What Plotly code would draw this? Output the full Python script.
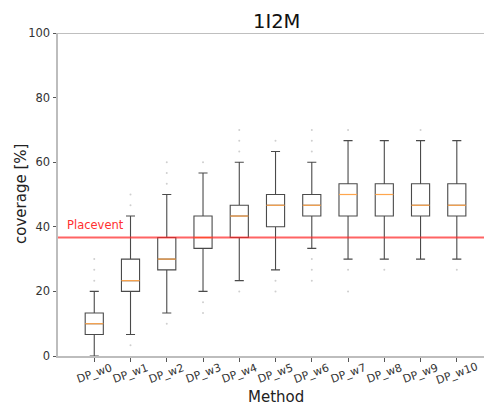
import plotly.graph_objects as go

methods = ["DP_w0", "DP_w1", "DP_w2", "DP_w3", "DP_w4", "DP_w5",
           "DP_w6", "DP_w7", "DP_w8", "DP_w9", "DP_w10"]
lower_whisker = [0.0, 6.67, 13.33, 20.0, 23.33, 26.67, 33.33, 30.0, 30.0, 30.0, 30.0]
q1 = [6.67, 20.0, 26.67, 33.33, 36.67, 40.0, 43.33, 43.33, 43.33, 43.33, 43.33]
medians = [10.0, 23.33, 30.0, 36.67, 43.33, 46.67, 46.67, 50.0, 50.0, 46.67, 46.67]
q3 = [13.33, 30.0, 36.67, 43.33, 46.67, 50.0, 50.0, 53.33, 53.33, 53.33, 53.33]
upper_whisker = [20.0, 43.33, 50.0, 56.67, 60.0, 63.33, 60.0, 66.67, 66.67, 66.67, 66.67]
outliers = [
    [23.33, 26.67, 30.0],
    [3.33, 46.67, 50.0],
    [10.0, 53.33, 56.67, 60.0],
    [13.33, 16.67, 60.0],
    [20.0, 63.33, 66.67, 70.0],
    [20.0, 23.33, 66.67],
    [23.33, 26.67, 30.0, 63.33, 66.67, 70.0],
    [20.0, 26.67, 70.0],
    [26.67],
    [70.0],
    [26.67],
]
placevent_value = 36.67
y_ticks = [0, 20, 40, 60, 80, 100]

positions = list(range(len(methods)))
box_w = 0.5

fig = go.Figure()
for i, m in enumerate(methods):
    fig.add_trace(go.Box(
        x=[positions[i]], q1=[q1[i]], median=[medians[i]], q3=[q3[i]],
        lowerfence=[lower_whisker[i]], upperfence=[upper_whisker[i]],
        width=box_w, whiskerwidth=0.5, boxpoints=False,
        line=dict(color="#4a4a4a", width=1.1),
        fillcolor="rgba(255,255,255,0)", name=m, showlegend=False,
        hoverinfo="skip",
    ))

# medians (orange)
mx, my = [], []
for i, med in enumerate(medians):
    mx += [positions[i] - box_w / 2, positions[i] + box_w / 2, None]
    my += [med, med, None]
fig.add_trace(go.Scatter(x=mx, y=my, mode="lines",
                         line=dict(color="#ffa64d", width=1.2),
                         showlegend=False, hoverinfo="skip"))

# outliers
ox, oy = [], []
for i, vals in enumerate(outliers):
    for v in vals:
        ox.append(positions[i])
        oy.append(v)
fig.add_trace(go.Scatter(x=ox, y=oy, mode="markers",
                         marker=dict(color="#cfcfcf", size=2),
                         showlegend=False, hoverinfo="skip"))

# Placevent line
fig.add_hline(y=placevent_value, line=dict(color="rgba(255,40,40,0.72)", width=2))
fig.add_annotation(x=-0.8, y=placevent_value, text="Placevent", showarrow=False,
                   xanchor="left", yanchor="bottom", yshift=4,
                   font=dict(family="DejaVu Sans", size=11.5, color="#ff3030"))

# top spine
fig.add_shape(type="line", xref="paper", yref="y", x0=0, x1=1, y0=100, y1=100,
              line=dict(color="#808080", width=1.2))

# title
fig.add_annotation(xref="paper", yref="paper", x=0.512, y=1.0, yshift=12,
                   text="1I2M", showarrow=False, xanchor="center", yanchor="middle",
                   font=dict(family="DejaVu Sans", size=19.5, color="#111111"))

# rotated, centred tick labels
for i, m in enumerate(methods):
    fig.add_annotation(x=positions[i], xref="x", y=0, yref="paper", yshift=-17,
                       text=m, textangle=-20, showarrow=False,
                       xanchor="center", yanchor="middle",
                       font=dict(family="DejaVu Sans", size=11, color="#333333"))

# axis titles
fig.add_annotation(xref="paper", yref="paper", x=0.512, y=0, yshift=-40.5,
                   text="Method", showarrow=False, xanchor="center", yanchor="middle",
                   font=dict(family="DejaVu Sans", size=15, color="#222222"))
fig.add_annotation(xref="paper", yref="paper", x=0, xshift=-37.5, y=0.5,
                   text="coverage [%]", textangle=-90, showarrow=False,
                   xanchor="center", yanchor="middle",
                   font=dict(family="DejaVu Sans", size=15, color="#222222"))

fig.update_layout(
    width=484, height=410,
    margin=dict(l=57.5, r=0, t=33, b=53.5),
    paper_bgcolor="white", plot_bgcolor="white",
    font=dict(family="DejaVu Sans", color="#222222"),
    xaxis=dict(
        range=[-1, 10.75], tickmode="array", tickvals=positions,
        showticklabels=False,
        showline=True, linecolor="#bdbdbd", linewidth=2,
        ticks="outside", ticklen=3.5, tickcolor="#555555", tickwidth=1,
        showgrid=False, zeroline=False,
    ),
    yaxis=dict(
        range=[0, 100], tickmode="array", tickvals=y_ticks,
        tickfont=dict(size=11.5, color="#333333"),
        showline=True, linecolor="#bdbdbd", linewidth=2,
        ticks="outside", ticklen=3.5, tickcolor="#555555", tickwidth=1,
        showgrid=False, zeroline=False,
    ),
)

fig.write_html("out.html")
